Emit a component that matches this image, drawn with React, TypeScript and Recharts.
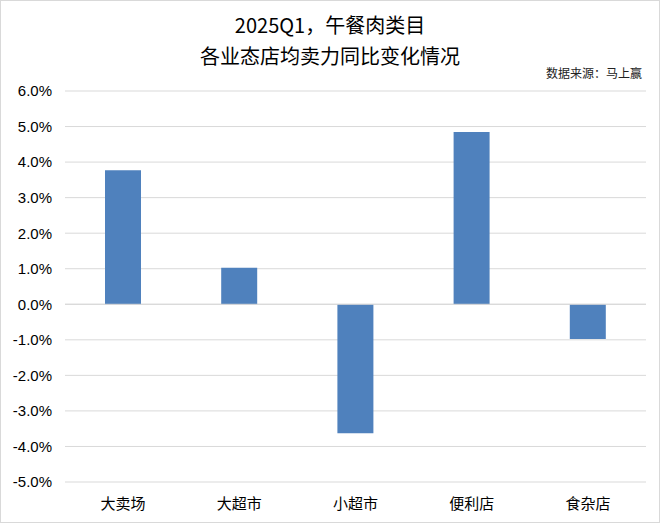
import React from 'react';
import { BarChart, Bar, XAxis, YAxis, CartesianGrid, ReferenceLine } from 'recharts';

const formats = ['大卖场', '大超市', '小超市', '便利店', '食杂店'];
const yoyChange = [3.77, 1.03, -3.63, 4.85, -0.98];
const yTicks = [-5, -4, -3, -2, -1, 0, 1, 2, 3, 4, 5, 6];

const data = formats.map((name, i) => ({ name, value: yoyChange[i] }));

const cjk = '"Noto Sans CJK SC", "Noto Sans", sans-serif';

export default function App() {
    return (
        <div style={{ position: 'absolute', left: 0, top: 0, width: 660, height: 523, background: '#fff' }}>
            <div style={{ position: 'absolute', left: 0, top: 0, width: 658, height: 521, border: '1px solid #d9d9d9' }} />
            <div style={{ position: 'absolute', left: 0, top: 9, width: 660, textAlign: 'center', fontFamily: cjk, fontSize: 20, lineHeight: '31px', color: '#000' }}>
                <div>2025Q1，午餐肉类目</div>
                <div>各业态店均卖力同比变化情况</div>
            </div>
            <div style={{ position: 'absolute', right: 18, top: 64, fontFamily: cjk, fontSize: 12, color: '#222' }}>
                数据来源：马上赢
            </div>
            <BarChart width={660} height={523} data={data} margin={{ top: 91, right: 14, left: 4, bottom: 0 }} barSize={36}>
                <CartesianGrid vertical={false} stroke="#d9d9d9" />
                <XAxis
                    dataKey="name"
                    axisLine={false}
                    tickLine={false}
                    height={41}
                    tick={{ fill: '#000', fontSize: 15, fontFamily: cjk }}
                    tickMargin={10}
                />
                <YAxis
                    domain={[-5, 6]}
                    ticks={yTicks}
                    width={61}
                    axisLine={false}
                    tickLine={false}
                    tickFormatter={(v: number) => v.toFixed(1) + '%'}
                    tick={{ fill: '#000', fontSize: 15, fontFamily: 'Liberation Sans, sans-serif' }}
                    tickMargin={7}
                />
                <ReferenceLine y={0} stroke="#d9d9d9" />
                <Bar dataKey="value" fill="#4F81BD" isAnimationActive={false} />
            </BarChart>
        </div>
    );
}
